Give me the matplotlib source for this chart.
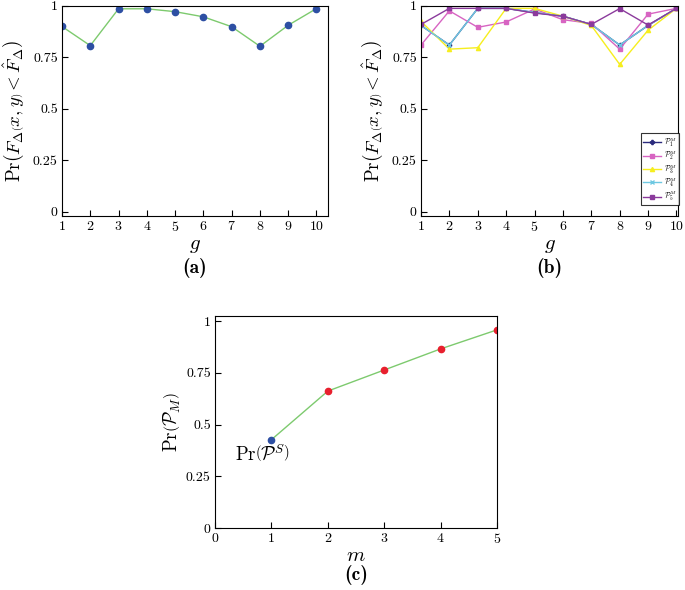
import matplotlib
matplotlib.use("Agg")
import matplotlib.pyplot as plt

plt.rcParams['mathtext.fontset'] = 'cm'
plt.rcParams['font.family'] = 'serif'
plt.rcParams['font.serif'] = ['cmr10', 'DejaVu Serif']
plt.rcParams['axes.formatter.use_mathtext'] = True

# ---- data ----
g = [1, 2, 3, 4, 5, 6, 7, 8, 9, 10]
pr_a = [0.90, 0.807, 0.986, 0.986, 0.972, 0.947, 0.899, 0.804, 0.906, 0.987]

p1 = [0.905, 0.81, 0.988, 0.988, 0.968, 0.95, 0.91, 0.81, 0.905, 0.988]
p2 = [0.81, 0.976, 0.896, 0.922, 0.985, 0.933, 0.915, 0.79, 0.96, 0.988]
p3 = [0.925, 0.79, 0.797, 0.988, 0.988, 0.95, 0.905, 0.716, 0.882, 0.988]
p4 = [0.905, 0.81, 0.988, 0.988, 0.968, 0.95, 0.91, 0.81, 0.905, 0.988]
p5 = [0.91, 0.988, 0.988, 0.988, 0.965, 0.95, 0.91, 0.987, 0.907, 0.988]
series_b = [p1, p2, p3, p4, p5]
labels_b = [r'$\mathcal{P}_1^M$', r'$\mathcal{P}_2^M$', r'$\mathcal{P}_3^M$',
            r'$\mathcal{P}_4^M$', r'$\mathcal{P}_5^M$']

m = [1, 2, 3, 4, 5]
pr_c = [0.427, 0.662, 0.764, 0.866, 0.958]

yticks = [0, 0.25, 0.5, 0.75, 1]
yticklabels = ['0', '0.25', '0.5', '0.75', '1']

# ---- styles ----
green = '#7dca6e'
blue = '#2d4fa3'
red = '#e8202e'
colors_b = ['#2b2b7d', '#d764c2', '#f6ee1e', '#6ec8e2', '#8b3a9c']
markers_b = ['P', 's', '^', 'x', 's']

fig = plt.figure(figsize=(6.85, 5.9), dpi=100)

def style(ax):
    ax.tick_params(direction='in', length=4, width=0.8, labelsize=10,
                   top=False, right=False, pad=3)
    for s in ax.spines.values():
        s.set_linewidth(0.8)
    ax.set_yticks(yticks)
    ax.set_yticklabels(yticklabels)

ylab = r'$\mathrm{Pr}\left(F_\Delta\left(x,y\right) < \hat{F}_\Delta\right)$'
bold = dict(fontname='cmb10', fontsize=14, ha='center', va='center')

# (a)
axa = fig.add_axes([0.0905, 0.634, 0.388, 0.356])
axa.plot(g, pr_a, color=green, lw=1.0, marker='o', ms=4.5,
         mfc=blue, mec=blue)
axa.set_xlim(1, 10.4)
axa.set_ylim(-0.02, 1.0)
axa.set_xticks(g)
style(axa)
axa.set_xlabel(r'$g$', fontsize=15, labelpad=2)
axa.set_ylabel(ylab, fontsize=13.5, labelpad=4)
axa.text(0.5, -0.25, '(a)', transform=axa.transAxes, **bold)

# (b)
axb = fig.add_axes([0.6146, 0.634, 0.375, 0.356])
for vals, c, mk, lb in zip(series_b, colors_b, markers_b, labels_b):
    axb.plot(g, vals, color=c, lw=1.0, marker=mk, ms=3.0, mfc=c, mec=c,
             label=lb)
axb.set_xlim(1, 10.05)
axb.set_ylim(-0.02, 1.0)
axb.set_xticks(g)
style(axb)
axb.set_xlabel(r'$g$', fontsize=15, labelpad=2)
axb.set_ylabel(ylab, fontsize=13.5, labelpad=4)
axb.text(0.5, -0.25, '(b)', transform=axb.transAxes, **bold)
leg = axb.legend(loc='lower right', bbox_to_anchor=(1.005, 0.05), fontsize=5.5,
                 frameon=True, fancybox=False, edgecolor='black',
                 handlelength=2.3, labelspacing=0.0, borderpad=0.3,
                 handletextpad=0.4, borderaxespad=0.0)
leg.get_frame().set_linewidth(0.8)

# (c)
axc = fig.add_axes([0.3139, 0.1051, 0.4117, 0.3593])
axc.plot(m, pr_c, color=green, lw=1.0)
axc.plot(m[1:], pr_c[1:], ls='none', marker='o', ms=4.5, mfc=red, mec=red)
axc.plot(m[:1], pr_c[:1], ls='none', marker='o', ms=4.5, mfc=blue, mec=blue)
axc.set_xlim(0, 5)
axc.set_ylim(0, 1.025)
axc.set_xticks([0, 1, 2, 3, 4, 5])
style(axc)
axc.text(0.35, 0.36, r'$\mathrm{Pr}\left(\mathcal{P}^S\right)$', fontsize=13.5,
         ha='left', va='center')
axc.set_xlabel(r'$m$', fontsize=15, labelpad=1)
axc.set_ylabel(r'$\mathrm{Pr}\left(\mathcal{P}_M\right)$', fontsize=13.5, labelpad=2)
axc.text(0.5, -0.22, '(c)', transform=axc.transAxes, **bold)

fig.savefig('out.png', dpi=100)
